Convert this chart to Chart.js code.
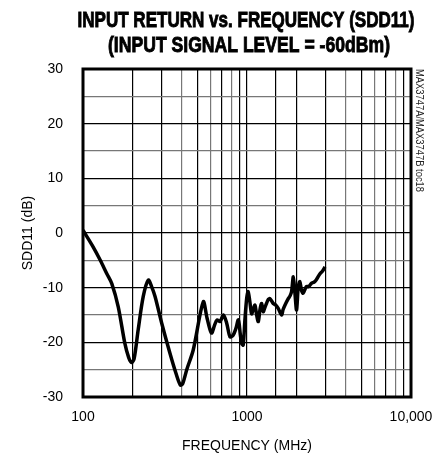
<!DOCTYPE html>
<html lang="en">
<head>
  <meta charset="UTF-8" />
  <title>SDD11 vs Frequency</title>
  <script src="https://cdn.jsdelivr.net/npm/chart.js"></script>
  <style>
    body { margin: 0; background: #fff; }
    #wrap { width: 446px; height: 455px; position: relative; }
  </style>
</head>
<body>
  <div id="wrap"><canvas id="chart"></canvas></div>
  <script>
    const freqMHz = [100, 115, 127, 140, 150, 164, 180, 190, 198, 205, 217, 233, 250, 262, 275, 302, 339, 370, 392, 405, 429, 470, 541, 570, 595, 610, 635, 657, 685, 718, 752, 788, 823, 855, 886, 910, 928, 948, 971, 995, 1016, 1040, 1067, 1090, 1118, 1145, 1172, 1200, 1228, 1256, 1290, 1315, 1345, 1380, 1446, 1500, 1550, 1625, 1660, 1703, 1785, 1830, 1870, 1917, 1960, 2006, 2054, 2100, 2150, 2200, 2300, 2380, 2470, 2560, 2640, 2780, 2880, 2990];
    const sdd11 = [0.5, -2.5, -4.9, -7.5, -9.3, -13.5, -20.2, -22.8, -23.7, -23, -17.7, -11.6, -8.6, -9.8, -11.6, -16.5, -22, -25.8, -27.8, -27.6, -25, -21.4, -12.6, -15.5, -17.7, -18.3, -16.8, -15.9, -16.2, -15, -16.5, -19, -18.7, -17.5, -15.9, -18.5, -20.2, -20.5, -15.9, -12, -10.7, -12.5, -14.8, -14, -13.2, -15, -16.2, -14, -12.9, -14.4, -13.5, -12.9, -12.2, -12, -12.9, -13.2, -13.8, -15, -14, -13.2, -12, -11.5, -10.7, -8, -11, -14.1, -9.8, -8.9, -10.5, -11, -9.8, -9.8, -9.2, -9, -8.6, -7.5, -7, -6.2];
    const xLabels = [100, 1000, 10000];
    const xLabelText = ['100', '1000', '10,000'];

    const sans = '"Liberation Sans", Arial, sans-serif';

    // draw text squeezed horizontally to a given width
    function squeezed(ctx, text, x, y, w, heavy) {
      const m = ctx.measureText(text).width;
      ctx.save();
      ctx.translate(x, y);
      ctx.scale(w / m, 1);
      ctx.fillText(text, 0, 0);
      if (heavy) {
        ctx.lineWidth = 0.9;
        ctx.strokeText(text, 0, 0);
      }
      ctx.restore();
    }

    // frame, title and side note
    const decor = {
      id: 'decor',
      afterDraw(chart) {
        const { ctx, chartArea: a } = chart;
        ctx.save();
        ctx.strokeStyle = '#000';
        ctx.lineWidth = 3;
        ctx.strokeRect(a.left, a.top, a.right - a.left, a.bottom - a.top);

        ctx.fillStyle = '#000';
        ctx.textAlign = 'center';
        ctx.textBaseline = 'middle';
        ctx.font = 'bold 22px ' + sans;
        squeezed(ctx, 'INPUT RETURN vs. FREQUENCY (SDD11)', 246, 21, 337, true);
        squeezed(ctx, '(INPUT SIGNAL LEVEL = -60dBm)', 249, 46, 282, true);

        ctx.translate(419, 69);
        ctx.rotate(Math.PI / 2);
        ctx.textAlign = 'left';
        ctx.font = '10px ' + sans;
        ctx.fillStyle = '#222';
        squeezed(ctx, 'MAX3747A/MAX3747B toc18', 0, 0, 123, false);
        ctx.restore();
      }
    };

    new Chart(document.getElementById('chart'), {
      type: 'line',
      data: {
        datasets: [{
          data: freqMHz.map((f, i) => ({ x: f, y: sdd11[i] })),
          borderColor: '#000',
          borderWidth: 3.5,
          pointRadius: 0,
          tension: 0.3,
          fill: false
        }]
      },
      options: {
        responsive: true,
        maintainAspectRatio: false,
        animation: false,
        layout: { padding: { top: 69, right: 35, left: 0, bottom: 0 } },
        plugins: { legend: { display: false }, tooltip: { enabled: false } },
        scales: {
          x: {
            type: 'logarithmic',
            min: 100,
            max: 10000,
            afterFit(s) { s.height = 58; },
            border: { display: false },
            grid: {
              drawTicks: false,
              color: ctx => {
                const v = ctx.tick && ctx.tick.value;
                const m = Math.round(v / Math.pow(10, Math.floor(Math.log10(v) + 1e-9)));
                return (m === 4 || m === 6 || m === 8) ? '#777' : '#000';
              },
              lineWidth: 1.2
            },
            ticks: {
              autoSkip: false,
              maxRotation: 0,
              padding: 12,
              color: '#000',
              font: { family: sans, size: 14 },
              callback: v => {
                const k = xLabels.indexOf(v);
                return k >= 0 ? xLabelText[k] : '';
              }
            },
            title: {
              display: true,
              text: 'FREQUENCY (MHz)',
              color: '#000',
              font: { family: sans, size: 14 },
              padding: { top: 8, bottom: 0 }
            }
          },
          y: {
            min: -30,
            max: 30,
            afterFit(s) { s.width = 83; },
            border: { display: false },
            grid: {
              drawTicks: false,
              color: ctx => (ctx.tick && Math.abs(ctx.tick.value) % 10 === 5) ? '#777' : '#000',
              lineWidth: 1.2
            },
            ticks: {
              stepSize: 5,
              padding: 20,
              color: '#000',
              font: { family: sans, size: 14 },
              callback: v => (v % 10 === 0 ? String(v) : '')
            },
            title: {
              display: true,
              text: 'SDD11 (dB)',
              color: '#000',
              font: { family: sans, size: 14 },
              padding: { top: 20, bottom: 0 }
            }
          }
        }
      },
      plugins: [decor]
    });
  </script>
</body>
</html>
